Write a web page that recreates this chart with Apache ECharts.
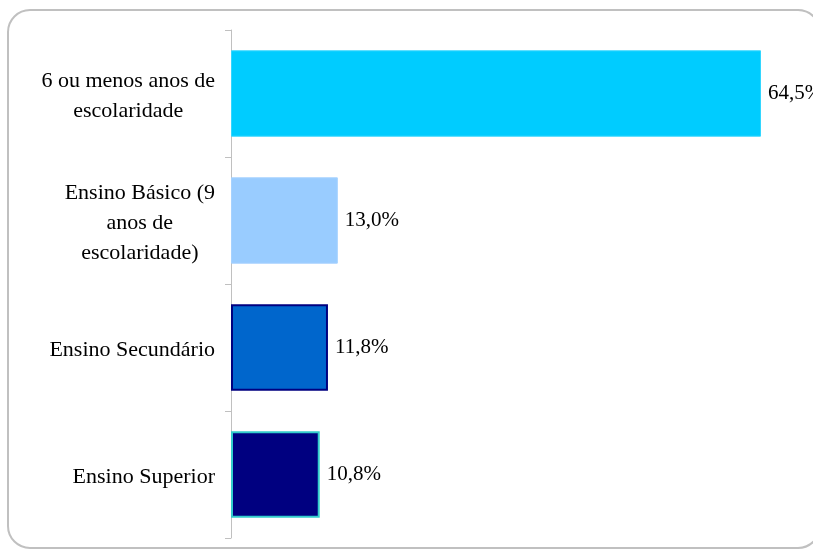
<!DOCTYPE html>
<html>
<head>
<meta charset="utf-8">
<script src="https://cdn.jsdelivr.net/npm/echarts@6/dist/echarts.min.js"></script>
<style>
  html, body { margin: 0; padding: 0; background: #fff; }
  #chart { width: 813px; height: 554px; }
</style>
</head>
<body>
<div id="chart"></div>
<script>
// categorias (de cima para baixo)
var categories = [
    ['6 ou menos anos de', 'escolaridade'],
    ['Ensino Básico (9', 'anos de', 'escolaridade)'],
    ['Ensino Secundário'],
    ['Ensino Superior']
];
var values = [64.5, 13.0, 11.8, 10.8];
var barColors = ['#00CCFF', '#99CCFF', '#0066CC', '#000080'];
var barBorders = ['#33D6FF', '#A6D2FF', '#000080', '#33CCCC'];

var serif = '"Liberation Serif", "Times New Roman", serif';

var myChart = echarts.init(document.getElementById('chart'));

var option = {
    animation: false,
    textStyle: { fontFamily: serif },
    graphic: [{
        type: 'rect',
        shape: { x: 8, y: 10, width: 812, height: 538, r: 22 },
        style: { fill: 'none', stroke: '#c0c0c0', lineWidth: 2 },
        silent: true
    }],
    grid: {
        left: 231,
        top: 30,
        width: 530,
        height: 508,
        containLabel: false
    },
    xAxis: {
        type: 'value',
        min: 0,
        max: 64.5,
        show: false
    },
    yAxis: {
        type: 'category',
        inverse: true,
        data: categories.map(function (c) { return c.join('\n'); }),
        axisLine: { show: true, lineStyle: { color: '#c0c0c0', width: 1 } },
        axisTick: { show: true, length: 6, lineStyle: { color: '#c0c0c0' } },
        axisLabel: {
            margin: 16,
            color: '#000',
            fontSize: 22,
            fontFamily: serif,
            lineHeight: 30,
            align: 'right',
            padding: [6, 0, 0, 0],
            formatter: function (v) {
                // linhas centradas dentro do bloco
                return v.split('\n').map(function (s) { return '{c|' + s + '}'; }).join('\n');
            },
            rich: {
                c: { align: 'center', fontSize: 22, lineHeight: 30, color: '#000', fontFamily: serif }
            }
        }
    },
    series: [{
        type: 'bar',
        barWidth: '68%',
        data: values.map(function (v, i) {
            return {
                value: v,
                itemStyle: {
                    color: barColors[i],
                    borderColor: barBorders[i],
                    borderWidth: i >= 2 ? 2 : 1
                }
            };
        }),
        label: {
            show: true,
            position: 'right',
            distance: 7,
            color: '#000',
            fontSize: 21,
            fontFamily: serif,
            formatter: function (p) {
                return p.value.toFixed(1).replace('.', ',') + '%';
            }
        }
    }]
};
myChart.setOption(option);
</script>
</body>
</html>
